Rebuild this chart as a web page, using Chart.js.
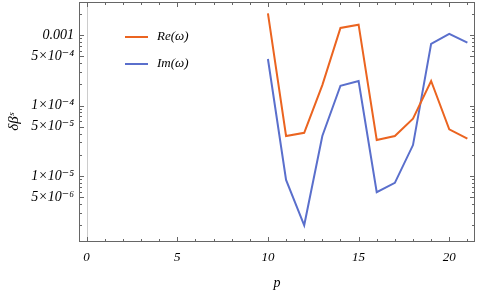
<!DOCTYPE html>
<html><head><meta charset="utf-8">
<script src="https://cdn.jsdelivr.net/npm/chart.js@4"></script>
<style>html,body{margin:0;padding:0;background:#fff}#wrap{width:480px;height:292px}</style>
</head><body><div id="wrap"><canvas id="c" width="480" height="292"></canvas></div>
<script>
const pValues = [10,11,12,13,14,15,16,17,18,19,20,21];
const reOmega = [2.03e-3,3.7e-5,4.1e-5,1.95e-4,1.26e-3,1.40e-3,3.25e-5,3.7e-5,6.5e-5,2.23e-4,4.6e-5,3.4e-5];
const imOmega = [4.57e-4,8.8e-6,2.0e-6,3.7e-5,1.91e-4,2.23e-4,5.9e-6,8.0e-6,2.75e-5,7.5e-4,1.04e-3,7.8e-4];
const xTicks = [0,5,10,15,20];
const yTicks = [1e-3,5e-4,1e-4,5e-5,1e-5,5e-6];
const yTickLabels = ['0.001','5\u00d710\u207b\u2074','1\u00d710\u207b\u2074','5\u00d710\u207b\u2075','1\u00d710\u207b\u2075','5\u00d710\u207b\u2076'];
const seriesNames = ['Re(\u03c9)','Im(\u03c9)'];
const seriesColors = ['#EB6420','#5A6FCC'];

const FONT = "'Liberation Serif', 'DejaVu Serif', serif";

const decor = {
  id:'decor',
  beforeDatasetsDraw(chart){
    const {ctx, chartArea:a, scales:{x,y}} = chart;
    ctx.save();
    const x0 = Math.round(x.getPixelForValue(0))+0.5;
    ctx.strokeStyle='#cccccc'; ctx.lineWidth=1;
    ctx.beginPath(); ctx.moveTo(x0,a.top); ctx.lineTo(x0,a.bottom); ctx.stroke();
    ctx.restore();
  },
  afterDatasetsDraw(chart){
    const {ctx, chartArea:a, scales:{x,y}} = chart;
    ctx.save();
    ctx.strokeStyle='#666'; ctx.lineWidth=1;
    ctx.strokeRect(Math.round(a.left)+0.5, Math.round(a.top)+0.5, Math.round(a.right-a.left)-1, Math.round(a.bottom-a.top)-1);
    ctx.beginPath();
    for(let p=0;p<=21;p++){
      const px = Math.round(x.getPixelForValue(p))+0.5;
      const len = (p%5===0)?5:3;
      ctx.moveTo(px,a.bottom); ctx.lineTo(px,a.bottom-len);
      ctx.moveTo(px,a.top); ctx.lineTo(px,a.top+len);
    }
    for(let e=-6;e<=-3;e++){
      for(let m=1;m<=9;m++){
        const v = m*Math.pow(10,e);
        if(v<y.min||v>y.max) continue;
        const py = Math.round(y.getPixelForValue(v))+0.5;
        const len = (m===1||m===5)?5:3;
        ctx.moveTo(a.left,py); ctx.lineTo(a.left+len,py);
        ctx.moveTo(a.right,py); ctx.lineTo(a.right-len,py);
      }
    }
    ctx.stroke();
    ctx.font = "italic 13px "+FONT;
    ctx.textBaseline='middle';
    const ly=[37,64];
    for(let i=0;i<2;i++){
      ctx.strokeStyle=seriesColors[i]; ctx.lineWidth=2;
      ctx.beginPath(); ctx.moveTo(125,ly[i]); ctx.lineTo(148,ly[i]); ctx.stroke();
      ctx.fillStyle='#000'; ctx.fillText(seriesNames[i],157,ly[i]);
    }
    ctx.restore();
  }
};

new Chart(document.getElementById('c'),{
  type:'line',
  data:{datasets:[
    {label:seriesNames[0], data:pValues.map((p,i)=>({x:p,y:reOmega[i]})), borderColor:seriesColors[0], borderWidth:2, pointRadius:0, fill:false, tension:0},
    {label:seriesNames[1], data:pValues.map((p,i)=>({x:p,y:imOmega[i]})), borderColor:seriesColors[1], borderWidth:2, pointRadius:0, fill:false, tension:0}
  ]},
  options:{
    responsive:false, animation:false, devicePixelRatio:1,
    layout:{padding:{top:2,right:5,left:5,bottom:0}},
    plugins:{legend:{display:false},tooltip:{enabled:false}},
    scales:{
      x:{type:'linear',min:-0.42,max:21.42,
        afterBuildTicks(s){s.ticks=xTicks.map(v=>({value:v}));},
        afterFit(s){s.height=50;s.paddingLeft=0;s.paddingRight=0;},
        grid:{display:false,drawTicks:false}, border:{display:false},
        ticks:{padding:8,color:'#000',font:{family:FONT,style:'italic',size:13},maxRotation:0,callback:v=>String(v)},
        title:{display:true,text:'p',color:'#000',font:{family:FONT,style:'italic',size:14},padding:{top:3,bottom:0}}
      },
      y:{type:'logarithmic',min:1.16e-6,max:2.94e-3,
        afterBuildTicks(s){s.ticks=yTicks.map(v=>({value:v}));},
        afterFit(s){s.width=74;s.paddingTop=0;s.paddingBottom=0;},
        grid:{display:false,drawTicks:false}, border:{display:false},
        ticks:{padding:5,color:'#000',font:{family:FONT,style:'italic',size:14},
          callback:(v)=>{const i=yTicks.findIndex(t=>Math.abs(t-v)/t<1e-6);return i>=0?yTickLabels[i]:'';}},
        title:{display:true,text:'\u03b4\u03b2\u02e2',color:'#000',font:{family:FONT,style:'italic',size:15},padding:{top:0,bottom:0}}
      }
    }
  },
  plugins:[decor]
});
</script></body></html>
